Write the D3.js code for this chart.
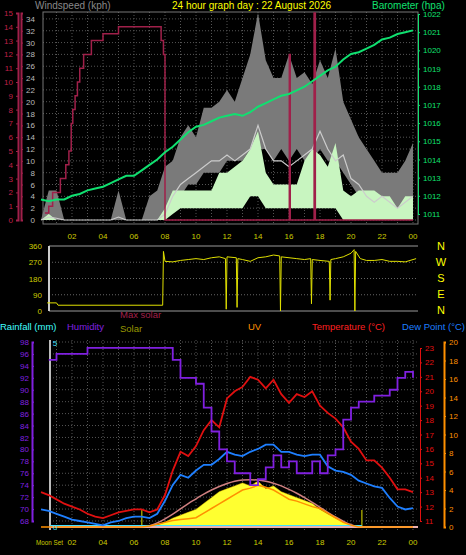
<!DOCTYPE html>
<html><head><meta charset="utf-8">
<script src="https://cdn.jsdelivr.net/npm/d3@7"></script>
<style>body{margin:0;background:#000}svg{display:block;font-family:"Liberation Sans",Arial,sans-serif}</style>
</head><body><svg id="c" width="466" height="555"></svg>
<script>
// half-hour grid 00:00 .. 24:00
const halfHours = d3.range(0, 24.01, 0.5);
const hourLabels = ['02','04','06','08','10','12','14','16','18','20','22','00'];

const pressure = [1011.8,1011.7,1011.8,1011.8,1012.0,1012.1,1012.3,1012.4,1012.5,1012.7,1012.9,1013.1,1013.1,1013.4,1013.7,1014.0,1014.4,1014.7,1015.1,1015.5,1015.8,1015.9,1016.1,1016.3,1016.4,1016.5,1016.4,1016.6,1016.9,1017.1,1017.3,1017.5,1017.6,1017.8,1018.0,1018.3,1018.6,1018.9,1019.1,1019.5,1019.8,1019.9,1020.1,1020.3,1020.6,1020.7,1020.9,1021.0,1021.1];
const gustHi = [0,5,5,0,0,0,0,0,0,0,5,0,0,0,4,5,9,10,14,16,14,19,19,20,22,20,24,28,35,27,24,24,28,24,25,23,27,24,29,20,17,14,12,10,8,8,8,10,13];
const gustLo = [0,0,0,0,0,0,0,0,0,0,0,0,0,0,0,0,0,2,4,6,6,8,8,8,10,10,10,12,12,12,10,12,10,12,10,10,12,10,10,8,6,4,4,2,2,2,2,2,4];
const windAvg = [0,0.5,0.3,0,0,0,0,0,0,0,0.5,0,0,0,0,0,1,4,6,7,8,9,10,10,11,10,11,12,16,12,10,10,9,10,11,12,15,12,10,11,7,6,4,3,4,3,2,3,4];
const windHi = [0,1,0,0,0,0,0,0,0,0,0,0,0,0,0,0,2,5,5,5,5,5,5,8,8,9,10,12,15,8,6,6,6,6,10,12,11,9,13,5,4,5,5,5,4,4,2,4,4];
const windLo = [0,0,0,0,0,0,0,0,0,0,0,0,0,0,0,0,0,1,2,2,2,2,2,2,2,2,2,4,4,2,2,2,2,2,2,2,2,2,2,0,0,0,0,0,0,0,0,0,0];

const stepTimes = [0.25,0.5,0.75,1.25,1.6,1.8,1.95,2.05,2.2,2.35,2.5,2.75,3.25,4.0,5.0,7.75,7.9,8.0,16.0,16.02,16.08,17.6,17.62,17.7,24.0];
const stepVals  = [0.5,1,2,3,4,5,7,8,9,10,11,12,13,13.5,14,13,12,0,0,12,0,0,15,0,0];

const dirTimes = [0.4,1.0,1.1,7.85,7.9,8.0,8.5,9,9.5,10,10.5,11,11.5,11.9,11.95,12.0,12.6,12.65,12.7,13,13.5,14,14.5,15,15.4,15.45,15.5,16,16.5,17,17.4,17.45,17.5,18,18.6,18.65,18.7,19,19.5,20,20.2,20.25,20.3,20.6,21,21.5,22,22.5,23,23.5,24.2];
const dirVals  = [45,45,32,32,330,275,272,280,285,290,285,295,300,290,10,300,295,20,290,285,275,295,300,310,305,0,300,295,290,285,290,40,285,280,275,60,285,290,300,320,340,0,330,290,280,280,285,275,275,272,290];

const temp = [13,12.8,12.5,12.2,12,11.8,11.5,11.3,11.2,11.4,11.6,11.7,11.8,11.8,11.6,11.8,12.8,14.5,15.8,15.5,16.2,17.3,18,17.5,19.5,20,20.3,21,20.8,20.2,20.8,19.8,19.2,19.8,19.6,20,19,18.5,18.1,17.5,16.5,16,15.2,15.2,14.7,14,13.2,13.2,13];
const dew = [11.8,11.7,11.5,11.3,11.1,11,10.9,10.8,10.7,10.9,11,11.2,11.3,11.3,11.2,11.5,12.4,13.5,14.2,14,14.5,14.9,14.9,15.3,15.8,15.6,15.5,15.8,16,16.3,16.3,15.8,15.8,15.6,15.5,15.6,15.6,14.8,14.5,14.4,14.2,13.8,13.6,13.4,13.3,12.6,12,11.8,11.9];
const humidity = [94,95,96,96,96,96,97,97,97,97,97,97,97,97,97,97,97,95,92,92,91,87,83,80,78,76,76,74,75,77,79,77,78,76,76,78,76,79,80,85,87,88,88,89,89,90,92,93,92];
const uv = [0,0,0,0,0,0,0,0,0,0,0,0,0,0,0.1,0.3,0.5,0.7,0.8,0.9,1,1.5,2,2.5,3,3.5,4,4.2,4.5,4.3,4,3.5,3,2.8,2.5,2.2,2,1.5,1,0.5,0.2,0,0,0,0,0,0,0,0];

const solarTimes = d3.range(6.5, 21.01, 0.5);
const solar    = [0,0,30,80,150,200,250,300,400,500,600,650,700,750,700,780,650,700,600,550,500,450,400,300,220,150,80,30,0,0];
const maxSolar = [0,20,70,140,220,310,400,480,560,630,690,740,780,800,805,800,780,745,700,640,575,500,420,335,250,170,100,40,5,0];

const svg = d3.select('#c');
const x = d3.scaleLinear().domain([0, 24]).range([41, 413]);
const grid = '#555';

function txt(xp, yp, s, col, size, anchor) {
  return svg.append('text').attr('x', xp).attr('y', yp).attr('fill', col).attr('font-size', size || 10)
    .attr('text-anchor', anchor || 'start').text(s);
}
function hourAxis(yp) {
  hourLabels.forEach((h, i) => txt(x((i + 1) * 2), yp, h, '#cccc00', 8, 'middle'));
}

// ---------- top panel ----------
const T = {l: 43, r: 418, t: 12, b: 224};
const yW = d3.scaleLinear().domain([0, 35]).range([220, 13]);
const yR = d3.scaleLinear().domain([0, 15]).range([220, 13]);
const yP = d3.scaleLinear().domain([1011, 1022]).range([214, 14]);

d3.range(0, 35, 2).forEach(v => svg.append('line').attr('x1', T.l).attr('x2', T.r).attr('y1', yW(v)).attr('y2', yW(v)).attr('stroke', grid).attr('stroke-dasharray', '1,2'));
d3.range(1, 25).forEach(h => svg.append('line').attr('x1', x(h)).attr('x2', x(h)).attr('y1', T.t).attr('y2', T.b).attr('stroke', grid).attr('stroke-dasharray', '1,2'));
svg.append('rect').attr('x', T.l).attr('y', T.t).attr('width', T.r - T.l).attr('height', T.b - T.t).attr('fill', 'none').attr('stroke', '#777');

svg.append('path').datum(halfHours).attr('fill', '#7a7a7a')
  .attr('d', d3.area().x(d => x(d)).y0((d, i) => yW(gustLo[i])).y1((d, i) => yW(gustHi[i])));
svg.append('path').datum(halfHours).attr('fill', '#c8f5c0')
  .attr('d', d3.area().x(d => x(d)).y0((d, i) => yW(windLo[i])).y1((d, i) => yW(windHi[i])));
svg.append('path').datum(halfHours).attr('fill', 'none').attr('stroke', '#ccc').attr('stroke-width', 1.2)
  .attr('d', d3.line().x(d => x(d)).y((d, i) => yW(windAvg[i])));
svg.append('path').datum(stepTimes).attr('fill', 'none').attr('stroke', '#a0204a').attr('stroke-width', 1.5)
  .attr('d', d3.line().curve(d3.curveStepAfter).x(d => x(d)).y((d, i) => yR(stepVals[i])));
svg.append('path').datum(halfHours).attr('fill', 'none').attr('stroke', '#10e070').attr('stroke-width', 2)
  .attr('d', d3.line().x(d => x(d)).y((d, i) => yP(pressure[i])));

svg.append('g').attr('transform', 'translate(18,0)').call(d3.axisLeft(yR).ticks(15).tickSize(2))
  .call(g => { g.selectAll('text').attr('fill', '#c0204a').attr('font-size', 8); g.selectAll('line,path').attr('stroke', '#a0204a'); g.select('path').attr('stroke-width', 2); });
svg.append('g').attr('transform', 'translate(21,0)').call(d3.axisRight(yW).tickValues(d3.range(0, 35, 2)).tickSize(2))
  .call(g => { g.selectAll('text').attr('fill', '#bbb').attr('font-size', 8).attr('x', 14).attr('text-anchor', 'end'); g.selectAll('line,path').attr('stroke', '#a0204a'); g.select('path').attr('stroke-width', 2); });
svg.append('g').attr('transform', `translate(${T.r},0)`).call(d3.axisRight(yP).ticks(11).tickFormat(d3.format('d')).tickSize(2))
  .call(g => { g.selectAll('text').attr('fill', '#10e070').attr('font-size', 8); g.selectAll('line,path').attr('stroke', '#10e070'); });

txt(35, 9, 'Windspeed (kph)', '#888', 10);
txt(172, 9, '24 hour graph day : 22 August 2026', '#ffff00', 10);
txt(372, 9, 'Barometer (hpa)', '#10e070', 10);
hourAxis(239);

// ---------- wind direction ----------
const D = {l: 49, r: 418, t: 246, b: 311};
const yD = d3.scaleLinear().domain([0, 360]).range([311, 246]);
[0, 90, 180, 270, 360].forEach(v => {
  svg.append('line').attr('x1', D.l).attr('x2', D.r).attr('y1', yD(v)).attr('y2', yD(v)).attr('stroke', v % 360 ? '#666' : '#999').attr('stroke-dasharray', v % 360 ? '1,2' : null);
  txt(42, yD(v) + 3, String(v), '#cccc00', 8, 'end');
});
svg.append('line').attr('x1', D.l).attr('x2', D.l).attr('y1', D.t).attr('y2', D.b).attr('stroke', '#ccc').attr('stroke-width', 2);
svg.append('path').datum(dirTimes).attr('fill', 'none').attr('stroke', '#e0e000').attr('stroke-width', 1)
  .attr('d', d3.line().x(d => x(d)).y((d, i) => yD(dirVals[i])));
['N', 'W', 'S', 'E', 'N'].forEach((s, i) => txt(441, 250 + i * 16, s, '#ffff00', 11, 'middle'));

// ---------- bottom panel ----------
const B = {l: 50, r: 418, t: 340, b: 530};
const yH = d3.scaleLinear().domain([68, 98]).range([521, 342]);
const yT = d3.scaleLinear().domain([11, 23]).range([521, 348]);
const yU = d3.scaleLinear().domain([0, 20]).range([527, 342]);
const yS = d3.scaleLinear().domain([0, 3150]).range([527, 342]);
const yRain = d3.scaleLinear().domain([0, 5]).range([527, 342]);

d3.range(68, 99, 2).forEach(v => svg.append('line').attr('x1', B.l).attr('x2', B.r).attr('y1', yH(v)).attr('y2', yH(v)).attr('stroke', grid).attr('stroke-dasharray', '1,2'));
d3.range(1, 25).forEach(h => svg.append('line').attr('x1', x(h)).attr('x2', x(h)).attr('y1', B.t).attr('y2', B.b).attr('stroke', grid).attr('stroke-dasharray', '1,2'));
svg.append('line').attr('x1', B.l).attr('x2', B.l).attr('y1', B.t).attr('y2', B.b).attr('stroke', '#bbb').attr('stroke-width', 2);

svg.append('path').datum(solarTimes).attr('fill', '#ffff30').attr('stroke', '#ffd000').attr('stroke-width', 0.5)
  .attr('d', d3.area().x(d => x(d)).y0(yS(0)).y1((d, i) => yS(solar[i])));
svg.append('path').datum(solarTimes).attr('fill', 'none').attr('stroke', '#d08080').attr('stroke-width', 1.5)
  .attr('d', d3.line().curve(d3.curveMonotoneX).x(d => x(d)).y((d, i) => yS(maxSolar[i])));
[6.5, 20.7].forEach(t => svg.append('line').attr('x1', x(t)).attr('x2', x(t)).attr('y1', 510).attr('y2', 528).attr('stroke', '#999900').attr('stroke-width', 1.5));
svg.append('line').attr('x1', B.l).attr('x2', B.r).attr('y1', yRain(0)).attr('y2', yRain(0)).attr('stroke', '#e8b0b0').attr('stroke-width', 2);
svg.append('line').attr('x1', B.l).attr('x2', x(20.7)).attr('y1', yRain(0) - 1.5).attr('y2', yRain(0) - 1.5).attr('stroke', '#40e0ff').attr('stroke-width', 1);

const line = (arr, sc) => d3.line().x(d => x(d)).y((d, i) => sc(arr[i]));
svg.append('path').datum(halfHours).attr('fill', 'none').attr('stroke', '#ff9000').attr('stroke-width', 1.5).attr('d', line(uv, yU));
svg.append('path').datum(halfHours).attr('fill', 'none').attr('stroke', '#1e7fff').attr('stroke-width', 1.8).attr('d', line(dew, yT));
svg.append('path').datum(halfHours).attr('fill', 'none').attr('stroke', '#e01010').attr('stroke-width', 1.8).attr('d', line(temp, yT));
svg.append('path').datum(halfHours.slice(1)).attr('fill', 'none').attr('stroke', '#8020e0').attr('stroke-width', 1.8)
  .attr('d', d3.line().curve(d3.curveStepAfter).x(d => x(d)).y((d, i) => yH(humidity[i + 1])));

svg.append('g').attr('transform', 'translate(32,0)').call(d3.axisRight(yH).tickValues(d3.range(68, 99, 2)).tickSize(2))
  .call(g => { g.selectAll('text').attr('fill', '#8020e0').attr('font-size', 8).attr('x', -3).attr('text-anchor', 'end'); g.selectAll('line,path').attr('stroke', '#8020e0'); g.select('path').attr('stroke-width', 2); });
txt(55, 346, '5', '#40e0ff', 8, 'middle');
txt(55, 530, '0', '#40e0ff', 8, 'middle');
svg.append('g').attr('transform', `translate(${B.r + 2},0)`).call(d3.axisRight(yT).ticks(12).tickSize(2))
  .call(g => { g.selectAll('text').attr('fill', '#e01010').attr('font-size', 8); g.selectAll('line,path').attr('stroke', '#e01010'); });
svg.append('g').attr('transform', 'translate(444,0)').call(d3.axisRight(yU).tickValues(d3.range(0, 21, 2)).tickSize(2))
  .call(g => { g.selectAll('text').attr('fill', '#ff9000').attr('font-size', 8); g.selectAll('line,path').attr('stroke', '#ff9000'); g.select('path').attr('stroke-width', 2); });

txt(0, 330, 'Rainfall (mm)', '#40ffff', 9.5);
txt(67, 330, 'Humidity', '#8020e0', 9.5);
txt(120, 318, 'Max solar', '#a0204a', 9.5);
txt(120, 332, 'Solar', '#999900', 9.5);
txt(248, 330, 'UV', '#ff9000', 9.5);
txt(312, 330, 'Temperature (°C)', '#ff2020', 9.5);
txt(465, 330, 'Dew Point (°C)', '#1e7fff', 9.5, 'end');
txt(36, 545, 'Moon Set', '#cccc00', 7).attr('textLength', 27).attr('lengthAdjust', 'spacingAndGlyphs');
hourAxis(545);
</script></body></html>
